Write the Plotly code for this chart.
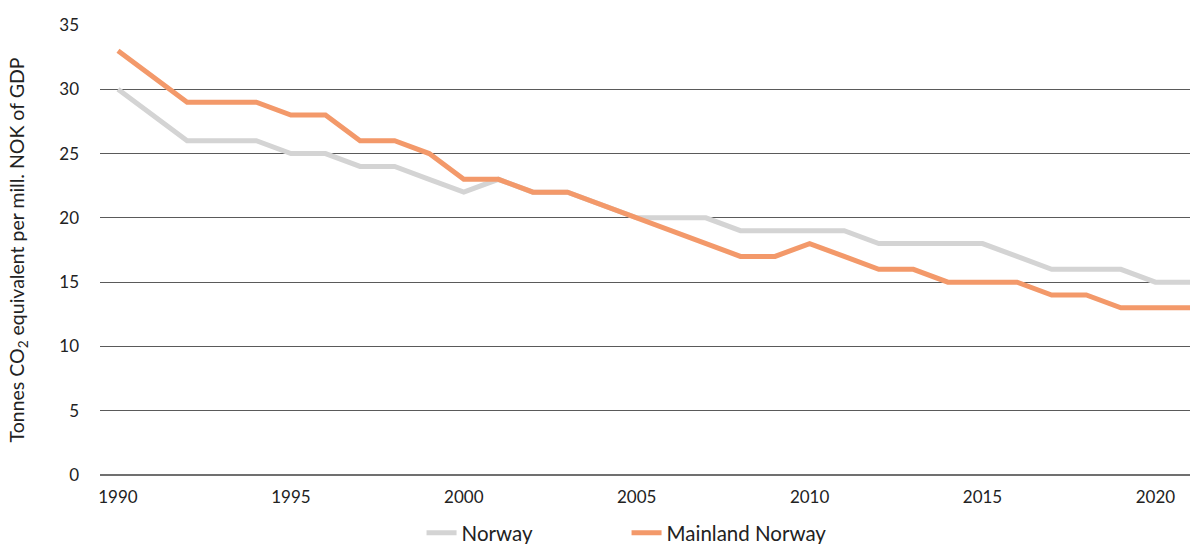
import plotly.graph_objects as go

years = list(range(1990, 2022))
norway = [30, 28, 26, 26, 26, 25, 25, 24, 24, 23, 22, 23, 22, 22, 21, 20,
          20, 20, 19, 19, 19, 19, 18, 18, 18, 18, 17, 16, 16, 16, 15, 15]
mainland = [33, 31, 29, 29, 29, 28, 28, 26, 26, 25, 23, 23, 22, 22, 21, 20,
            19, 18, 17, 17, 18, 17, 16, 16, 15, 15, 15, 14, 14, 13, 13, 13]
x_ticks = [1990, 1995, 2000, 2005, 2010, 2015, 2020]
y_ticks = [0, 5, 10, 15, 20, 25, 30, 35]

FONT = "Lato, 'Open Sans', sans-serif"

fig = go.Figure()
fig.add_trace(go.Scatter(x=years, y=norway, name="Norway", mode="lines",
                         line=dict(color="#d4d4d4", width=5)))
fig.add_trace(go.Scatter(x=years, y=mainland, name="Mainland Norway", mode="lines",
                         line=dict(color="#f3996a", width=5)))

fig.update_layout(
    width=1190, height=544,
    margin=dict(l=100, r=0, t=25, b=69, autoexpand=False),
    paper_bgcolor="white", plot_bgcolor="white",
    font=dict(family=FONT, size=17, color="#222222"),
    showlegend=True,
    legend=dict(orientation="h", x=0.295, xanchor="left", y=-0.129, yanchor="middle",
                font=dict(size=20.5), entrywidth=160, traceorder="normal"),
    xaxis=dict(range=[1989.48, 2021.0], tickvals=x_ticks, showgrid=False,
               zeroline=False, showline=False, ticks="", ticklen=0,
               ticklabelstandoff=10, tickfont=dict(size=17)),
    yaxis=dict(range=[0, 35], tickvals=y_ticks, showgrid=True, gridcolor="#5a5a5a",
               gridwidth=1, zeroline=True, zerolinecolor="#707070", zerolinewidth=2,
               showline=False, ticks="", ticklabelstandoff=20, tickfont=dict(size=17),
               title=dict(text="Tonnes CO<sub>2</sub> equivalent per mill. NOK of GDP",
                          font=dict(size=19.5), standoff=29)),
)

fig.write_html("out.html")
